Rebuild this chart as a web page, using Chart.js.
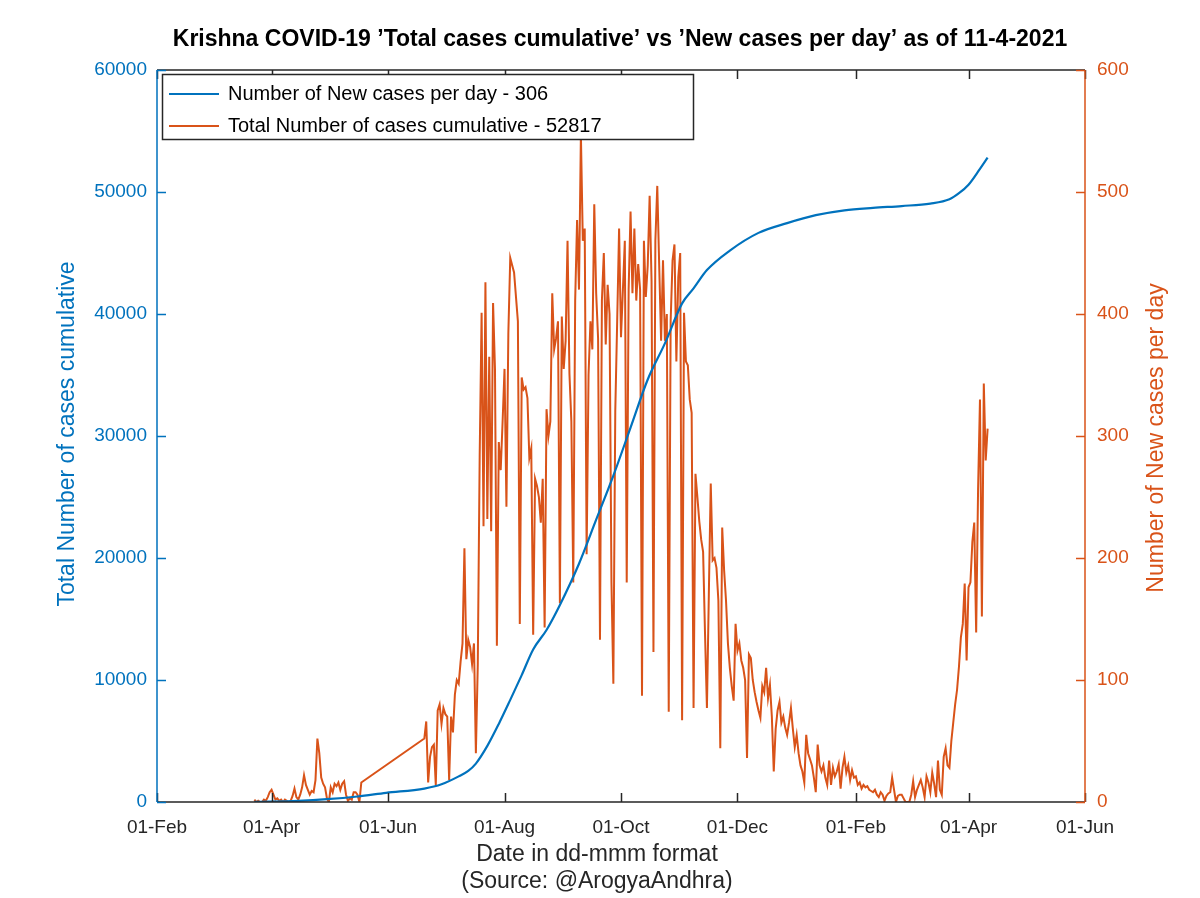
<!DOCTYPE html>
<html>
<head>
<meta charset="utf-8">
<script src="https://cdn.jsdelivr.net/npm/chart.js@4.4.1/dist/chart.umd.min.js"></script>
<style>
html,body{margin:0;padding:0;background:#ffffff;}
#wrap{width:1200px;height:898px;position:relative;}
</style>
</head>
<body>
<div id="wrap"><canvas id="c" width="1200" height="898"></canvas></div>
<script>
// ---------------- DATA ----------------
const chartTitle = 'Krishna COVID-19 ’Total cases cumulative’ vs ’New cases per day’ as of 11-4-2021';
const xAxisTitle = ['Date in dd-mmm format', '(Source: @ArogyaAndhra)'];
const leftAxisTitle = 'Total Number of cases cumulative';
const rightAxisTitle = 'Number of New cases per day';
const legendLabels = ['Number of New cases per day - 306', 'Total Number of cases cumulative - 52817'];

const axisStartDate = '2020-02-01';
const axisEndDate = '2021-06-01';
const xTickDates = ['2020-02-01','2020-04-01','2020-06-01','2020-08-01','2020-10-01','2020-12-01','2021-02-01','2021-04-01','2021-06-01'];
const xTickLabels = ['01-Feb','01-Apr','01-Jun','01-Aug','01-Oct','01-Dec','01-Feb','01-Apr','01-Jun'];
const leftTicks = [0,10000,20000,30000,40000,50000,60000];
const rightTicks = [0,100,200,300,400,500,600];

// Daily new cases, first reported block (from 23-Mar-2020)
const newCasesBlock1Start = '2020-03-23';
const newCasesBlock1 = [
  2,0,1,0,0,2,1,4,8,10,
  6,2,3,1,2,0,2,1,0,1,
  5,11,4,2,6,12,22,14,10,6,
  9,8,18,52,40,20,15,12,3,0,
  12,8,15,13,16,10,15,17,6,1,
  3,2,8,8,6,0,16
];
// Daily new cases, second block (from 20-Jun-2020 to 11-Apr-2021)
const newCasesBlock2Start = '2020-06-20';
const newCasesBlock2 = [
  52,66,16,37,45,47,14,75,80,64,
  77,72,70,18,70,57,88,100,97,115,
  130,208,117,133,127,113,130,40,113,285,
  401,226,426,232,365,222,409,355,128,295,
  272,312,355,242,384,446,440,434,414,394,
  146,348,338,340,331,282,290,137,265,259,
  250,229,265,143,322,300,312,417,371,380,
  394,163,398,355,378,460,351,312,180,411,
  477,420,547,460,470,203,350,394,371,490,
  417,380,133,411,450,375,424,400,180,97,
  320,394,470,381,420,460,180,420,484,417,
  470,411,441,420,87,460,414,440,497,427,
  123,460,505,440,378,444,378,400,74,394,
  444,457,361,430,450,67,401,361,358,330,
  319,77,269,250,230,215,205,138,77,170,
  261,198,200,192,165,44,225,190,165,130,
  110,95,83,146,124,130,116,110,100,36,
  121,118,100,90,82,75,69,95,90,110,
  85,96,70,25,60,75,82,65,70,61,
  55,65,77,60,45,55,40,30,25,16,
  55,40,35,30,20,8,47,30,25,30,
  20,14,34,14,28,21,25,31,11,28,
  37,24,30,18,26,20,21,14,16,11,
  14,12,13,10,9,8,10,6,4,8,
  6,1,5,7,8,20,10,0,5,6,
  6,3,0,0,0,6,17,4,10,14,
  18,12,4,21,16,8,24,15,4,34,
  10,6,37,44,30,28,50,65,80,92,
  111,135,146,179,116,176,180,213,229,139,
  256,330,152,343,280,306
];

// Cumulative total cases, read at these dates
const cumDates = [
  '2020-03-23','2020-04-15','2020-04-30','2020-05-16','2020-05-31','2020-06-20','2020-06-29',
  '2020-07-08','2020-07-13','2020-07-17','2020-07-23','2020-07-29','2020-08-04','2020-08-10',
  '2020-08-16','2020-08-23','2020-08-30','2020-09-09','2020-09-18','2020-09-27','2020-10-06',
  '2020-10-15','2020-10-24','2020-11-02','2020-11-08','2020-11-15','2020-11-27','2020-12-12',
  '2020-12-27','2021-01-11','2021-01-26','2021-02-10','2021-02-25','2021-03-12','2021-03-22',
  '2021-03-27','2021-04-01','2021-04-07','2021-04-11'
];
const cumValues = [
  10,100,230,450,750,1100,1450,
  2100,2550,3150,4600,6400,8370,10400,
  12500,14100,16150,19530,23140,26750,30690,
  34630,37590,40870,42100,43600,45200,46650,
  47450,48100,48500,48700,48850,49050,49400,
  49900,50600,51900,52817
];

// ---------------- BUILD ----------------
const DAY = 86400000;
function toUTC(s){ const p = s.split('-').map(Number); return Date.UTC(p[0], p[1]-1, p[2]); }
const t0 = toUTC(axisStartDate);
function dayOf(s){ return Math.round((toUTC(s) - t0) / DAY); }

const xMin = 0, xMax = dayOf(axisEndDate);
const xTickDays = xTickDates.map(dayOf);

const newPoints = [];
const s1 = dayOf(newCasesBlock1Start);
newCasesBlock1.forEach((v,i)=>newPoints.push({x:s1+i, y:v}));
const s2 = dayOf(newCasesBlock2Start);
newCasesBlock2.forEach((v,i)=>newPoints.push({x:s2+i, y:v}));
const cumPoints = cumDates.map((d,i)=>({x:dayOf(d), y:cumValues[i]}));

const BLUE = '#0072BD';
const ORANGE = '#D95319';
const AXIS = '#262626';
const FONT = '"Liberation Sans", Arial, Helvetica, sans-serif';
const FS_TICK = 19;
const FS_LEGEND = 20;
const FS_LABEL = 23;
const FS_TITLE = 23;

const decor = {
  id: 'decor',
  afterDraw(chart){
    const ctx = chart.ctx;
    const a = chart.chartArea;
    const xs = chart.scales.x, yl = chart.scales.yL, yr = chart.scales.yR;
    ctx.save();
    // axes box
    ctx.lineWidth = 1.5;
    ctx.strokeStyle = AXIS;
    ctx.beginPath();
    ctx.moveTo(a.left, a.bottom); ctx.lineTo(a.right, a.bottom);
    ctx.moveTo(a.left, a.top); ctx.lineTo(a.right, a.top);
    ctx.stroke();
    // x ticks
    ctx.beginPath();
    xTickDays.forEach(d=>{
      const px = Math.round(xs.getPixelForValue(d)) + 0.5;
      ctx.moveTo(px, a.bottom); ctx.lineTo(px, a.bottom - 9);
      ctx.moveTo(px, a.top); ctx.lineTo(px, a.top + 9);
    });
    ctx.stroke();
    // left axis
    ctx.strokeStyle = BLUE;
    ctx.beginPath();
    ctx.moveTo(a.left, a.top); ctx.lineTo(a.left, a.bottom);
    leftTicks.forEach(v=>{ const py = Math.round(yl.getPixelForValue(v)) + 0.5; ctx.moveTo(a.left, py); ctx.lineTo(a.left + 9, py); });
    ctx.stroke();
    // right axis
    ctx.strokeStyle = ORANGE;
    ctx.beginPath();
    ctx.moveTo(a.right, a.top); ctx.lineTo(a.right, a.bottom);
    rightTicks.forEach(v=>{ const py = Math.round(yr.getPixelForValue(v)) + 0.5; ctx.moveTo(a.right, py); ctx.lineTo(a.right - 9, py); });
    ctx.stroke();

    // title
    ctx.fillStyle = '#000000';
    ctx.font = 'bold ' + FS_TITLE + 'px ' + FONT;
    ctx.textAlign = 'center';
    ctx.textBaseline = 'middle';
    ctx.fillText(chartTitle, 620, 40);

    // x-axis title
    ctx.font = FS_LABEL + 'px ' + FONT;
    ctx.fillStyle = AXIS;
    ctx.fillText(xAxisTitle[0], 597, 855);
    ctx.fillText(xAxisTitle[1], 597, 882);

    // y-axis titles
    ctx.save();
    ctx.translate(68, 434); ctx.rotate(-Math.PI/2);
    ctx.fillStyle = BLUE; ctx.fillText(leftAxisTitle, 0, 0);
    ctx.restore();
    ctx.save();
    ctx.translate(1157, 438); ctx.rotate(-Math.PI/2);
    ctx.fillStyle = ORANGE; ctx.fillText(rightAxisTitle, 0, 0);
    ctx.restore();

    // legend
    const lx = 162.5, ly = 74.5, lw = 531, lh = 65;
    ctx.fillStyle = '#ffffff';
    ctx.fillRect(lx, ly, lw, lh);
    ctx.strokeStyle = AXIS; ctx.lineWidth = 1.5;
    ctx.strokeRect(lx, ly, lw, lh);
    ctx.font = FS_LEGEND + 'px ' + FONT;
    const rows = [[BLUE, 94], [ORANGE, 126]];
    rows.forEach((r,i)=>{
      ctx.strokeStyle = r[0]; ctx.lineWidth = 2;
      ctx.beginPath(); ctx.moveTo(169, r[1]); ctx.lineTo(219, r[1]); ctx.stroke();
      ctx.fillStyle = '#000000';
      ctx.textAlign = 'left';
      ctx.fillText(legendLabels[i], 228, r[1]);
    });
    ctx.restore();
  }
};

new Chart(document.getElementById('c'), {
  type: 'line',
  data: {
    datasets: [
      { label: legendLabels[0], data: cumPoints, yAxisID: 'yL', borderColor: BLUE, backgroundColor: BLUE,
        borderWidth: 2.2, pointRadius: 0, cubicInterpolationMode: 'monotone', fill: false },
      { label: legendLabels[1], data: newPoints, yAxisID: 'yR', borderColor: ORANGE, backgroundColor: ORANGE,
        borderWidth: 2, pointRadius: 0, tension: 0, fill: false }
    ]
  },
  options: {
    responsive: false,
    animation: false,
    devicePixelRatio: 1,
    layout: { padding: { top: 70, left: 0, right: 0, bottom: 0 } },
    plugins: { legend: { display: false }, tooltip: { enabled: false }, title: { display: false } },
    scales: {
      x: {
        type: 'linear', min: xMin, max: xMax,
        afterBuildTicks: s => { s.ticks = xTickDays.map(v => ({ value: v })); },
        afterFit: s => { s.height = 96; },
        ticks: { autoSkip: false, maxRotation: 0, color: AXIS, padding: 14,
                 font: { family: FONT, size: FS_TICK },
                 callback: (v, i) => xTickLabels[i] },
        grid: { display: false, drawTicks: false },
        border: { display: false }
      },
      yL: {
        type: 'linear', position: 'left', min: 0, max: 60000,
        afterBuildTicks: s => { s.ticks = leftTicks.map(v => ({ value: v })); },
        afterFit: s => { s.width = 157; },
        ticks: { color: BLUE, padding: 10, font: { family: FONT, size: FS_TICK }, callback: v => String(v) },
        grid: { display: false, drawTicks: false },
        border: { display: false }
      },
      yR: {
        type: 'linear', position: 'right', min: 0, max: 600,
        afterBuildTicks: s => { s.ticks = rightTicks.map(v => ({ value: v })); },
        afterFit: s => { s.width = 115; },
        ticks: { color: ORANGE, padding: 12, font: { family: FONT, size: FS_TICK }, callback: v => String(v) },
        grid: { display: false, drawTicks: false },
        border: { display: false }
      }
    }
  },
  plugins: [decor]
});
</script>
</body>
</html>
